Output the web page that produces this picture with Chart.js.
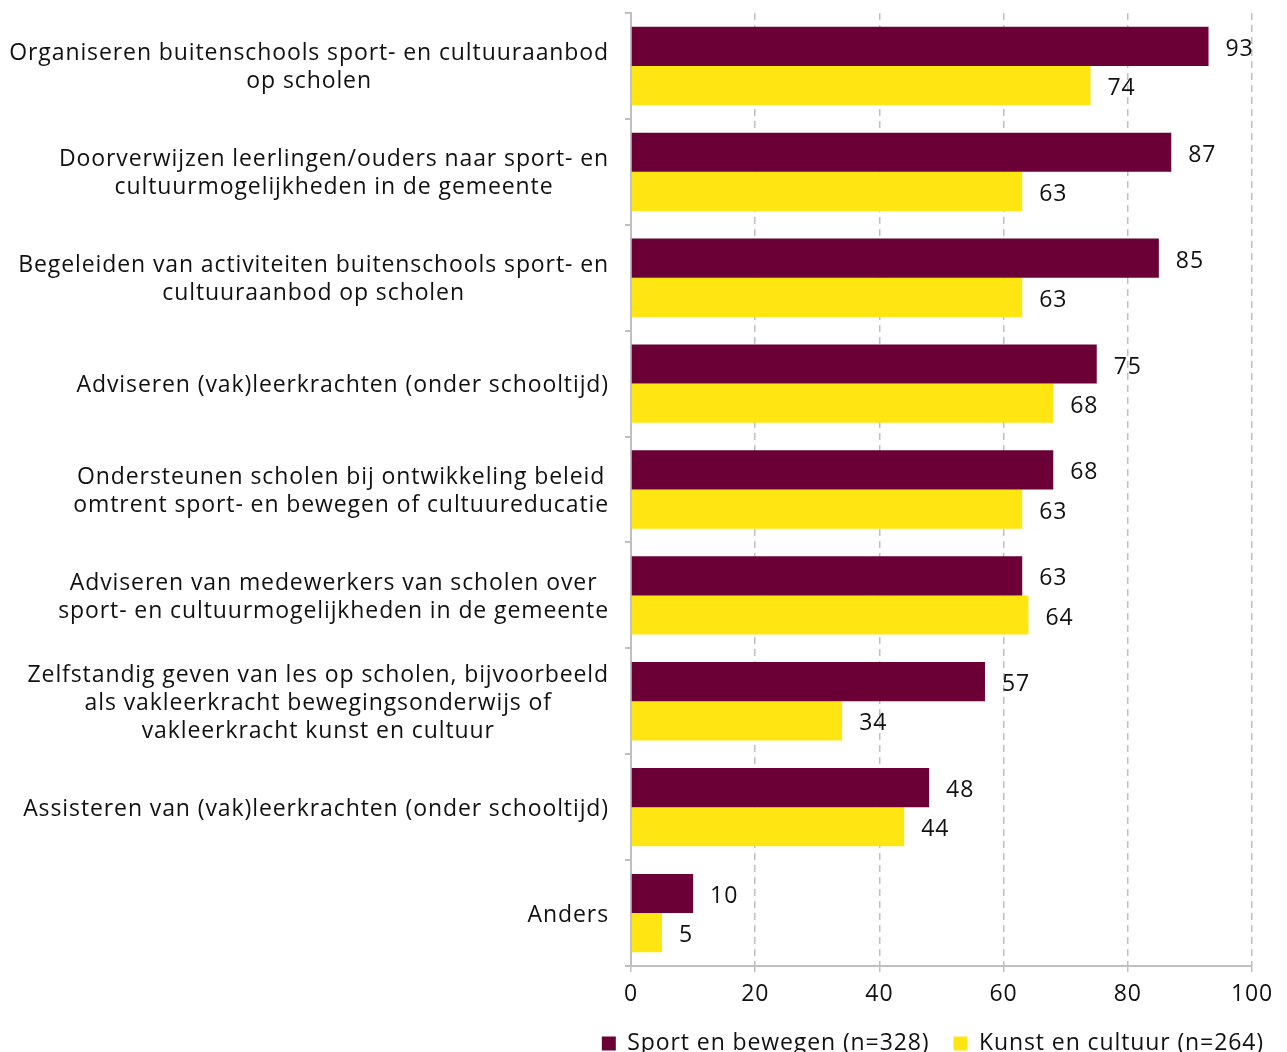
<!DOCTYPE html>
<html>
<head>
<meta charset="utf-8">
<script src="https://cdn.jsdelivr.net/npm/chart.js@4"></script>
<style>
    html, body { margin: 0; padding: 0; background: #fff; }
    #wrap { width: 1287px; height: 1052px; }
</style>
</head>
<body>
<div id="wrap"><canvas id="taakChart"></canvas></div>
<script>
// Categories (each entry is the lines of the wrapped label)
const categories = [
    ['Organiseren buitenschools sport- en cultuuraanbod', 'op scholen'],
    ['Doorverwijzen leerlingen/ouders naar sport- en', 'cultuurmogelijkheden in de gemeente'],
    ['Begeleiden van activiteiten buitenschools sport- en', 'cultuuraanbod op scholen'],
    ['Adviseren (vak)leerkrachten (onder schooltijd)'],
    ['Ondersteunen scholen bij ontwikkeling beleid', 'omtrent sport- en bewegen of cultuureducatie'],
    ['Adviseren van medewerkers van scholen over', 'sport- en cultuurmogelijkheden in de gemeente'],
    ['Zelfstandig geven van les op scholen, bijvoorbeeld', 'als vakleerkracht bewegingsonderwijs of', 'vakleerkracht kunst en cultuur'],
    ['Assisteren van (vak)leerkrachten (onder schooltijd)'],
    ['Anders']
];

const sportValues = [93, 87, 85, 75, 68, 63, 57, 48, 10];
const kunstValues = [74, 63, 63, 68, 63, 64, 34, 44, 5];

const seriesLabels = ['Sport en bewegen (n=328)', 'Kunst en cultuur (n=264)'];
const xTicks = [0, 20, 40, 60, 80, 100];

const colors = {
    sport: '#6B0036',
    kunst: '#FFE512',
    axis: '#BFBFBF',
    text: '#111'
};

const FONT = "'Open Sans', 'DejaVu Sans', sans-serif";
const FONT_SIZE = 23;
const LETTER_SPACING = '0.9px';

// The reference text is set a little wider than the plain font
const spacingPlugin = {
    id: 'letterSpacing',
    beforeUpdate(chart) { chart.ctx.letterSpacing = LETTER_SPACING; },
    beforeDraw(chart) { chart.ctx.letterSpacing = LETTER_SPACING; }
};

// Draw the wrapped category labels, lines centred on each other, block right-aligned
const categoryLabelPlugin = {
    id: 'categoryLabels',
    afterDraw(chart) {
        const ctx = chart.ctx;
        const yScale = chart.scales.y;
        const rightEdge = chart.chartArea.left - 22;
        const lineHeight = 28;
        ctx.save();
        ctx.font = FONT_SIZE + 'px ' + FONT;
        ctx.fillStyle = colors.text;
        ctx.textAlign = 'center';
        ctx.textBaseline = 'middle';
        categories.forEach((lines, i) => {
            const blockWidth = Math.max(...lines.map(l => ctx.measureText(l).width));
            const cx = rightEdge - blockWidth / 2;
            const cy = yScale.getPixelForValue(i) + 2;
            const top = cy - (lines.length - 1) * lineHeight / 2;
            lines.forEach((line, j) => ctx.fillText(line, cx, top + j * lineHeight));
        });
        ctx.restore();
    }
};

// Value labels to the right of each bar
const valueLabelPlugin = {
    id: 'valueLabels',
    afterDatasetsDraw(chart) {
        const ctx = chart.ctx;
        ctx.save();
        ctx.font = FONT_SIZE + 'px ' + FONT;
        ctx.fillStyle = colors.text;
        ctx.textAlign = 'left';
        ctx.textBaseline = 'middle';
        chart.data.datasets.forEach((ds, di) => {
            const meta = chart.getDatasetMeta(di);
            meta.data.forEach((bar, i) => {
                ctx.fillText(String(ds.data[i]), bar.x + 17, bar.y + 3);
            });
        });
        ctx.restore();
    }
};

Chart.defaults.font.family = FONT;
Chart.defaults.font.size = FONT_SIZE;
Chart.defaults.color = colors.text;

new Chart(document.getElementById('taakChart').getContext('2d'), {
    type: 'bar',
    data: {
        labels: categories.map(c => c.join(' ')),
        datasets: [{
            label: seriesLabels[0],
            data: sportValues,
            backgroundColor: colors.sport,
            categoryPercentage: 0.74,
            barPercentage: 1.0
        }, {
            label: seriesLabels[1],
            data: kunstValues,
            backgroundColor: colors.kunst,
            categoryPercentage: 0.74,
            barPercentage: 1.0
        }]
    },
    options: {
        indexAxis: 'y',
        responsive: true,
        maintainAspectRatio: false,
        animation: false,
        layout: {
            padding: { top: 13, left: 0, right: -1, bottom: -13 }
        },
        plugins: {
            tooltip: { enabled: false },
            legend: {
                position: 'bottom',
                align: 'end',
                labels: {
                    boxWidth: 14,
                    boxHeight: 14,
                    padding: 24,
                    color: colors.text,
                    font: { size: FONT_SIZE, lineHeight: 1 }
                }
            }
        },
        scales: {
            x: {
                min: 0,
                max: 100,
                afterBuildTicks(scale) {
                    scale.ticks = xTicks.map(v => ({ value: v }));
                },
                afterFit(scale) {
                    scale.paddingRight = 35;
                    scale.height = 42;
                },
                ticks: {
                    padding: 9,
                    color: colors.text
                },
                grid: {
                    color: colors.axis,
                    lineWidth: 1.5,
                    tickLength: 6,
                    tickColor: colors.axis
                },
                border: {
                    color: colors.axis,
                    width: 2,
                    dash: [7, 5]
                }
            },
            y: {
                offset: true,
                afterFit(scale) {
                    scale.width = 631;
                },
                ticks: { display: false },
                grid: {
                    offset: true,
                    drawOnChartArea: false,
                    tickLength: 6,
                    color: colors.axis,
                    lineWidth: 2
                },
                border: {
                    color: colors.axis,
                    width: 2
                }
            }
        }
    },
    plugins: [spacingPlugin, categoryLabelPlugin, valueLabelPlugin]
});
</script>
</body>
</html>
